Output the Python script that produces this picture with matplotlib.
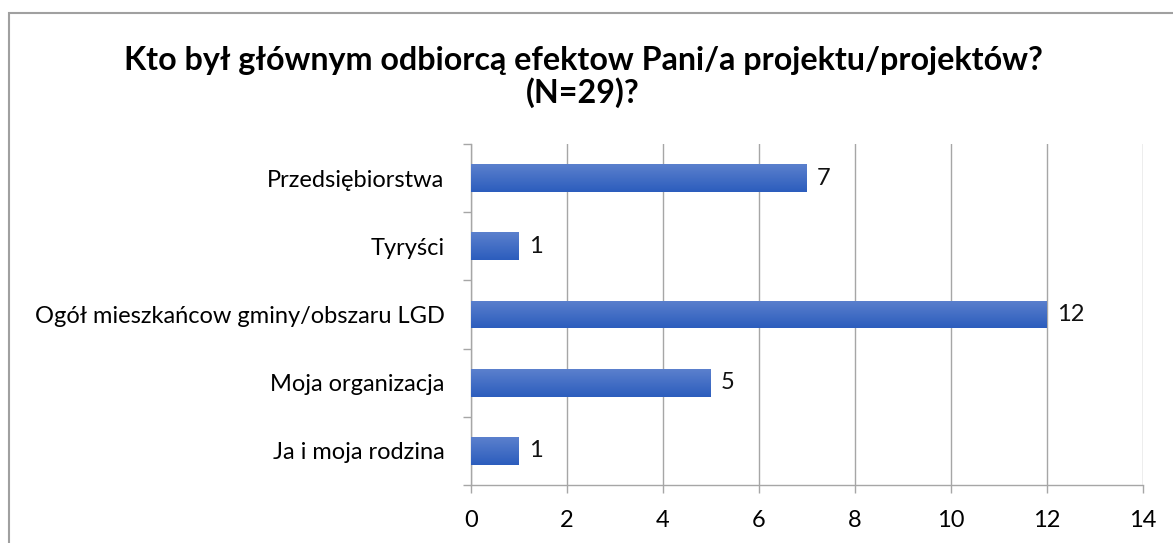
import matplotlib
matplotlib.use("Agg")
import matplotlib.pyplot as plt
import numpy as np
from matplotlib.colors import LinearSegmentedColormap
from matplotlib.patches import Rectangle

categories = ["Przedsiębiorstwa", "Tyryści", "Ogół mieszkańcow gminy/obszaru LGD",
              "Moja organizacja", "Ja i moja rodzina"]
values = [7, 1, 12, 5, 1]
xticks = [0, 2, 4, 6, 8, 10, 12, 14]
title = "Kto był głównym odbiorcą efektow Pani/a projektu/projektów?\n(N=29)?"

plt.rcParams['font.family'] = ['Lato', 'DejaVu Sans']

W, H = 1173, 543
fig = plt.figure(figsize=(W / 100, H / 100), dpi=100)
fig.patch.set_facecolor("white")

ax = fig.add_axes([471 / W, 1 - 485 / H, (1143 - 471) / W, (485 - 144) / H])

grid_c = "#a6a6a6"
fs = 17
y = np.arange(len(categories))
bars = ax.barh(y, values, height=0.41, color="#3f6bc6", zorder=3)

cmap = LinearSegmentedColormap.from_list("g", ["#5b80cd", "#2c5dbd"])
grad = np.linspace(0, 1, 64).reshape(-1, 1)
for b in bars:
    x0, y0 = b.get_x(), b.get_y()
    w, h = b.get_width(), b.get_height()
    im = ax.imshow(grad, cmap=cmap, aspect="auto", extent=(x0, x0 + w, y0 + h, y0),
                   origin="upper", zorder=4)
    im.set_clip_path(b)

for b, v in zip(bars, values):
    ax.text(b.get_width() + 0.2, b.get_y() + b.get_height() / 2, str(v),
            va="center", ha="left", fontsize=fs, color="#111111", zorder=5)

ax.set_xlim(0, 14)
ax.set_ylim(len(categories) - 0.5, -0.5)
ax.set_xticks(xticks)
ax.set_xticklabels([str(t) for t in xticks], fontsize=fs)
ax.set_yticks(y)
ax.set_yticklabels(categories, fontsize=fs)
ax.set_yticks(np.arange(len(categories) + 1) - 0.5, minor=True)

ax.tick_params(axis="y", which="major", length=0, pad=19)
ax.tick_params(axis="y", which="minor", length=6, color=grid_c, width=1)
ax.tick_params(axis="x", which="major", length=6, color=grid_c, width=1, pad=12)
ax.xaxis.grid(True, color=grid_c, linewidth=1, zorder=0)
ax.set_axisbelow(True)
for s in ["top", "right"]:
    ax.spines[s].set_visible(False)
for s in ["left", "bottom"]:
    ax.spines[s].set_color(grid_c)
    ax.spines[s].set_linewidth(1)

fig.text(583 / W, 1 - 77 / H, title, ha="center", va="center", fontsize=23.2,
         fontweight="bold", linespacing=1.12, color="#000000")

border = Rectangle((9 / W, -0.1), 1.2, 1 - 13 / H + 0.1, transform=fig.transFigure,
                   fill=False, edgecolor="#a0a0a0", linewidth=1.5)
fig.patches.append(border)

fig.savefig("out.png", dpi=100)
